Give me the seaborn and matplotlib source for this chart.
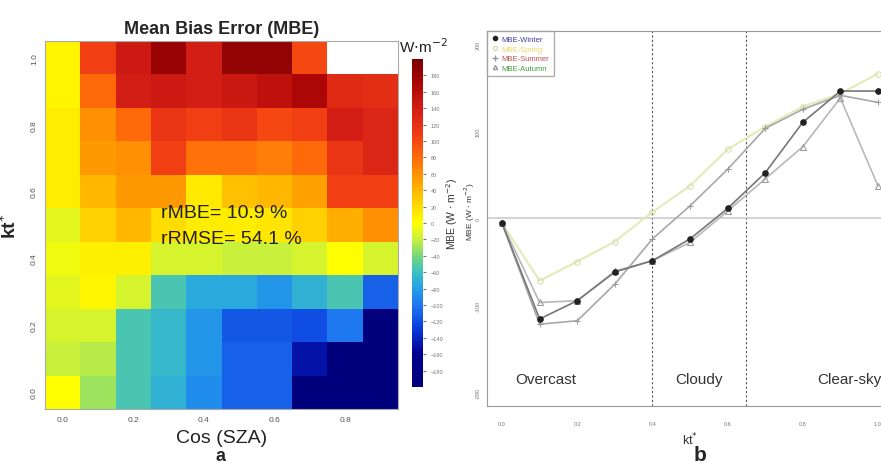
import numpy as np
import pandas as pd
import matplotlib
matplotlib.use("Agg")
import matplotlib.pyplot as plt
import seaborn as sns
from matplotlib.colors import LinearSegmentedColormap
from matplotlib.lines import Line2D

sns.set_style("white")
plt.rcParams['font.family'] = ['Liberation Sans', 'DejaVu Sans']

# ---------------- data: panel a (heatmap) ----------------
cos_sza = [0.0, 0.1, 0.2, 0.3, 0.4, 0.5, 0.6, 0.7, 0.8, 0.9]
kt_rows = [1.0, 0.9, 0.8, 0.7, 0.6, 0.5, 0.4, 0.3, 0.2, 0.1, 0.0]
mbe_grid = [
    [5, 105, 145, 180, 140, 185, 185, 100, np.nan, np.nan],
    [5, 80, 140, 145, 140, 148, 155, 170, 125, 122],
    [10, 60, 80, 115, 105, 115, 100, 105, 140, 130],
    [10, 55, 60, 105, 75, 75, 70, 80, 115, 130],
    [10, 40, 55, 55, 12, 35, 40, 50, 105, 105],
    [-10, 25, 40, 20, 10, 10, 15, 25, 45, 60],
    [-5, 8, 8, -15, -15, -20, -20, -15, 0, -15],
    [-10, 5, -15, -55, -75, -75, -85, -70, -55, -110],
    [-15, -15, -55, -65, -85, -115, -115, -120, -100, -195],
    [-20, -25, -55, -65, -85, -110, -110, -150, -195, -195],
    [0, -30, -55, -70, -90, -110, -110, -195, -195, -195],
]
x_tick_labels = ["0.0", "0.2", "0.4", "0.6", "0.8"]
y_tick_labels = ["1.0", "0.8", "0.6", "0.4", "0.2", "0.0"]
cbar_ticks = list(range(-180, 181, 20))

# ---------------- data: panel b (lines) ----------------
kt_vals = [0.0, 0.1, 0.2, 0.3, 0.4, 0.5, 0.6, 0.7, 0.8, 0.9, 1.0]
mbe_winter = [-6, -116, -95, -62, -49, -24, 11, 52, 110, 146, 146]
mbe_spring = [-6, -72, -50, -27, 7, 37, 79, 105, 128, 143, 166]
mbe_summer = [-6, -122, -118, -76, -24, 14, 56, 103, 125, 141, 133]
mbe_autumn = [-6, -97, -95, -61, -49, -28, 8, 45, 82, 138, 37]
series_names = ["MBE-Winter", "MBE-Spring", "MBE-Summer", "MBE-Autumn"]

fig = plt.figure(figsize=(8.81, 4.64), dpi=100)

# ---------------- panel a ----------------
cmap = LinearSegmentedColormap.from_list("mbe", [
    (0.00, "#00007A"), (0.10, "#000090"), (0.18, "#0A3CDC"), (0.25, "#1E78F0"),
    (0.30, "#23A0E6"), (0.35, "#3CC0C0"), (0.40, "#78D87A"), (0.45, "#C8F03C"),
    (0.50, "#FFFF00"), (0.55, "#FFDC00"), (0.62, "#FFA800"), (0.70, "#FF6A0A"),
    (0.77, "#F03C14"), (0.85, "#D21E14"), (0.93, "#AA0505"), (1.00, "#7A0000")])

df = pd.DataFrame(mbe_grid, index=kt_rows, columns=cos_sza)
ax = fig.add_axes([45/881, 1-410/464, 353/881, 368/464])
cax = fig.add_axes([412/881, 1-388/464, 11/881, 328/464])
sns.heatmap(df, ax=ax, cmap=cmap, vmin=-200, vmax=200, cbar_ax=cax,
            cbar_kws={"ticks": cbar_ticks})
ax.set_xticks([0.5, 2.5, 4.5, 6.5, 8.5])
ax.set_xticklabels(x_tick_labels, rotation=0, fontsize=6, color="#555555")
ax.set_yticks([0.5, 2.5, 4.5, 6.5, 8.5, 10.5])
ax.set_yticklabels(y_tick_labels, rotation=90, fontsize=6, color="#555555", va="center")
ax.tick_params(axis="both", length=2, color="#999999", pad=3)
for sp in ax.spines.values():
    sp.set_visible(True)
    sp.set_color("#aaaaaa")
    sp.set_linewidth(0.8)
ax.set_xlabel("Cos (SZA)", fontsize=14, color="#222222")
ax.xaxis.set_label_coords(0.5, -0.055)
ax.set_ylabel("kt$^{*}$", fontsize=14, fontweight="bold")
ax.yaxis.set_label_coords(-0.07, 0.5)
ax.set_title("Mean Bias Error (MBE)", fontsize=13, fontweight="bold", pad=6)
ax.text(0.33, 0.533, "rMBE= 10.9 %", transform=ax.transAxes, fontsize=14,
        color="#222222", va="center")
ax.text(0.33, 0.462, "rRMSE= 54.1 %", transform=ax.transAxes, fontsize=14,
        color="#222222", va="center")
cax.tick_params(labelsize=4, length=2, colors="#777777")
cax.set_ylabel("MBE (W $\\cdot$ m$^{-2}$)", fontsize=7.5, color="#333333")
cax.yaxis.set_label_coords(2.9, 0.53)
fig.text(423/881, 1-47/464, "W$\\cdot$m$^{-2}$", fontsize=11, ha="center", va="center", color="#222222")
fig.text(220/881, 1-457/464, "a", fontsize=13, fontweight="bold", ha="center", va="center")

# ---------------- panel b ----------------
bx = fig.add_axes([487/881, 1-407/464, 406/881, 375/464])
bx.axvline(0.4, color="#555555", ls=(0, (2, 2)), lw=0.8)
bx.axvline(0.65, color="#555555", ls=(0, (2, 2)), lw=0.8)
bx.axhline(0, color="#cccccc", lw=1.2)
sns.lineplot(x=kt_vals, y=mbe_spring, ax=bx, color="#E4EBB8", lw=1.5, marker="o",
             markersize=4, markerfacecolor="none", markeredgecolor="#DADDB0")
sns.lineplot(x=kt_vals, y=mbe_summer, ax=bx, color="#A8A8A8", lw=1.2, marker="+",
             markersize=5, markeredgecolor="#999999")
sns.lineplot(x=kt_vals, y=mbe_autumn, ax=bx, color="#B8B8B8", lw=1.2, marker="^",
             markersize=4, markerfacecolor="none", markeredgecolor="#999999")
sns.lineplot(x=kt_vals, y=mbe_winter, ax=bx, color="#777777", lw=1.2, marker="o",
             markersize=4, markerfacecolor="#222222", markeredgecolor="#222222")
bx.set_xlim(-0.04, 1.04)
bx.set_ylim(-216, 215)
bx.set_xticks([0.0, 0.2, 0.4, 0.6, 0.8, 1.0])
bx.set_xticklabels(["0.0", "0.2", "0.4", "0.6", "0.8", "1.0"], fontsize=4, color="#777777")
bx.set_yticks([-200, -100, 0, 100, 200])
bx.set_yticklabels(["-200", "-100", "0", "100", "200"], fontsize=4, color="#777777",
                   rotation=90, va="center")
bx.tick_params(axis="x", length=3, color="#999999", pad=8)
bx.tick_params(axis="y", length=3, color="#999999", pad=1.5)
for sp in bx.spines.values():
    sp.set_color("#999999")
    sp.set_linewidth(0.8)
bx.set_xlabel("kt$^{*}$", fontsize=9, color="#333333")
bx.xaxis.set_label_coords(0.5, -0.065)
bx.set_ylabel("MBE (W $\\cdot$ m$^{-2}$)", fontsize=6, color="#333333")
bx.yaxis.set_label_coords(-0.025, 0.52)
bx.text(0.115, -185, "Overcast", fontsize=11, ha="center", va="center", color="#333333")
bx.text(0.525, -185, "Cloudy", fontsize=11, ha="center", va="center", color="#333333")
bx.text(0.925, -185, "Clear-sky", fontsize=11, ha="center", va="center", color="#333333")
handles = [
    Line2D([], [], ls="none", marker="o", markersize=3, color="#222222"),
    Line2D([], [], ls="none", marker="o", markersize=3, markerfacecolor="none", color="#DADDB0"),
    Line2D([], [], ls="none", marker="+", markersize=4, color="#999999"),
    Line2D([], [], ls="none", marker="^", markersize=3, markerfacecolor="none", color="#999999"),
]
leg = bx.legend(handles, series_names, loc="upper left", fontsize=5.5, frameon=True,
                fancybox=False, edgecolor="#999999", borderpad=0.6, handletextpad=0.3,
                labelspacing=0.3, handlelength=1.0, borderaxespad=0)
for t, c in zip(leg.get_texts(), ["#4040A0", "#E8D868", "#C05050", "#40A040"]):
    t.set_color(c)
fig.text(700/881, 1-456/464, "b", fontsize=15, fontweight="bold", ha="center", va="center")

fig.savefig("out.png", dpi=100)
